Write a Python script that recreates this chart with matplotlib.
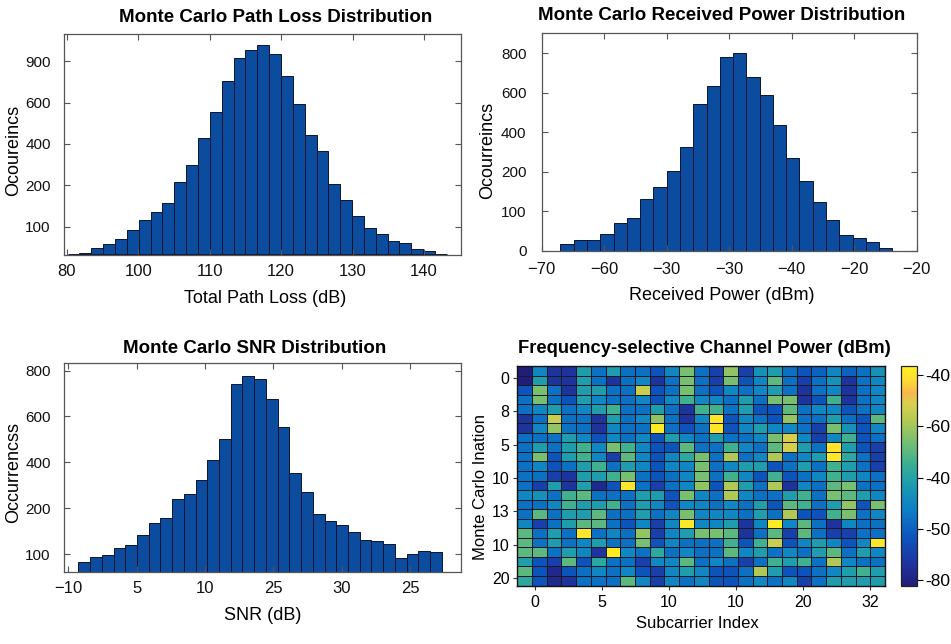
import numpy as np
import matplotlib
matplotlib.use("Agg")
import matplotlib.pyplot as plt
from matplotlib.colors import LinearSegmentedColormap

plt.rcParams['font.family'] = ['Liberation Sans', 'DejaVu Sans']

# ---------------- data ----------------
# Path loss histogram
pl_start, pl_width = 90.1, 1.66
pl_counts = [1, 5, 21, 37, 56, 88, 124, 153, 187, 262, 323, 420, 517, 630, 711, 741,
             758, 728, 648, 545, 433, 373, 254, 196, 139, 96, 73, 49, 39, 19, 12, 1]
pl_xticks = [90, 100, 110, 120, 130, 140]
pl_xlabels = ["80", "100", "110", "120", "130", "140"]
pl_yticks = [100, 250, 400, 550, 700]
pl_ylabels = ["100", "200", "400", "600", "900"]

# Received power histogram
rp_start, rp_width = -67.0, 2.125
rp_counts = [18, 27, 27, 42, 69, 84, 130, 160, 202, 263, 370, 416, 490, 500, 439, 395,
             319, 235, 176, 122, 77, 40, 32, 22, 6]
rp_xticks = [-70, -60, -50, -40, -30, -20, -10]
rp_xlabels = ["\u221270", "\u221260", "\u221230", "\u221230", "\u221240", "\u221220", "\u221220"]
rp_yticks = [0, 100, 200, 300, 400, 500]
rp_ylabels = ["0", "100", "200", "400", "600", "800"]

# SNR histogram
snr_start, snr_width = 0.732, 0.8577
snr_counts = [83, 94, 98, 114, 120, 141, 167, 179, 221, 232, 262, 304, 351, 471, 488, 482,
              439, 376, 276, 235, 188, 171, 163, 149, 131, 128, 121, 91, 100, 107, 105]
snr_xticks = [0, 5, 10, 15, 20, 25]
snr_xlabels = ["\u221210", "5", "10", "25", "30", "25"]
snr_yticks = [100, 200, 300, 400, 500]
snr_ylabels = ["100", "200", "400", "600", "800"]

# Channel power heatmap (dBm), 23 iterations x 25 subcarriers
power = [
    [-81,-65,-77,-77,-61,-68,-61,-68,-68,-72,-65,-53,-68,-75,-51,-75,-63,-61,-68,-72,-70,-65,-70,-68,-63],
    [-81,-61,-77,-77,-61,-68,-77,-68,-65,-77,-68,-53,-68,-75,-53,-72,-65,-55,-68,-75,-68,-63,-77,-68,-65],
    [-72,-53,-68,-77,-61,-61,-68,-68,-47,-72,-68,-53,-68,-72,-65,-68,-65,-61,-68,-77,-68,-65,-77,-68,-65],
    [-68,-53,-68,-72,-61,-65,-68,-68,-65,-72,-65,-57,-65,-65,-68,-61,-68,-53,-53,-77,-72,-57,-77,-68,-65],
    [-68,-65,-61,-68,-65,-61,-57,-68,-68,-61,-68,-77,-57,-57,-68,-61,-72,-72,-55,-68,-65,-65,-72,-68,-65],
    [-77,-68,-47,-68,-68,-77,-61,-68,-65,-51,-68,-77,-65,-40,-72,-65,-68,-72,-51,-68,-68,-61,-68,-72,-55],
    [-77,-65,-51,-68,-68,-77,-65,-68,-68,-39,-68,-72,-68,-40,-72,-65,-61,-65,-65,-68,-75,-53,-63,-72,-65],
    [-68,-68,-68,-61,-65,-72,-65,-68,-65,-72,-61,-65,-68,-61,-68,-68,-65,-53,-46,-65,-75,-65,-57,-72,-68],
    [-68,-61,-68,-61,-57,-65,-53,-57,-65,-72,-72,-55,-68,-68,-57,-65,-68,-55,-46,-61,-68,-40,-61,-72,-75],
    [-68,-53,-72,-61,-57,-65,-75,-55,-65,-72,-65,-59,-53,-68,-49,-68,-65,-49,-68,-65,-61,-39.5,-59,-68,-75],
    [-68,-65,-72,-68,-61,-57,-68,-61,-65,-72,-65,-65,-53,-68,-65,-61,-61,-72,-68,-61,-68,-57,-61,-68,-75],
    [-68,-68,-75,-77,-61,-61,-57,-53,-68,-72,-68,-65,-53,-68,-57,-65,-72,-57,-72,-68,-65,-57,-61,-65,-68],
    [-68,-75,-61,-77,-61,-79,-72,-40,-68,-75,-68,-65,-51,-72,-49,-61,-68,-49,-77,-65,-68,-55,-53,-68,-68],
    [-65,-63,-68,-57,-55,-68,-68,-68,-61,-61,-72,-53,-65,-68,-49,-65,-68,-68,-61,-57,-68,-53,-55,-61,-65],
    [-68,-68,-65,-57,-61,-61,-57,-68,-61,-65,-72,-65,-65,-68,-65,-68,-61,-72,-55,-57,-68,-61,-51,-72,-53],
    [-68,-55,-68,-61,-61,-55,-68,-68,-61,-68,-65,-53,-65,-65,-65,-68,-61,-68,-49,-72,-72,-57,-53,-68,-65],
    [-65,-75,-68,-61,-55,-55,-68,-72,-65,-75,-65,-39.5,-65,-65,-61,-77,-65,-39,-65,-55,-68,-77,-65,-68,-68],
    [-55,-68,-61,-68,-40,-68,-65,-68,-51,-75,-65,-61,-53,-53,-55,-77,-68,-55,-75,-55,-68,-75,-75,-68,-68],
    [-55,-68,-61,-68,-65,-61,-68,-68,-53,-72,-65,-68,-68,-68,-57,-72,-57,-47,-72,-65,-61,-65,-72,-65,-40],
    [-55,-55,-68,-61,-65,-77,-39,-65,-68,-59,-68,-65,-68,-68,-55,-65,-61,-68,-65,-68,-61,-55,-68,-61,-65],
    [-61,-72,-75,-55,-72,-59,-68,-68,-75,-65,-65,-55,-68,-65,-68,-75,-68,-57,-61,-57,-68,-49,-65,-68,-68],
    [-55,-72,-79,-72,-68,-65,-68,-65,-72,-75,-65,-61,-65,-72,-72,-68,-49,-61,-72,-72,-68,-65,-61,-57,-61],
    [-59,-72,-79,-77,-68,-68,-68,-55,-65,-75,-65,-68,-65,-72,-72,-68,-65,-68,-65,-75,-68,-61,-61,-61,-61],
]
hm_xticks = [0, 5, 10, 15, 20, 25]
hm_xlabels = ["0", "5", "10", "10", "20", "32"]
hm_yticks = [0, 5, 10, 15, 20, 25, 30]
hm_ylabels = ["0", "8", "5", "10", "13", "10", "20"]
cb_ticks = [-40, -50, -60, -70, -80]
cb_labels = ["-40", "-60", "-40", "-50", "-80"]

# ---------------- style ----------------
BAR = '#0b4c9f'
EDGE = '#0a1430'
SPINE = '#555555'

cmap = LinearSegmentedColormap.from_list('parulaish', [
    (0.00, (0.13, 0.11, 0.47)),
    (0.10, (0.12, 0.20, 0.62)),
    (0.22, (0.05, 0.33, 0.74)),
    (0.35, (0.05, 0.50, 0.78)),
    (0.45, (0.10, 0.60, 0.70)),
    (0.55, (0.22, 0.68, 0.58)),
    (0.65, (0.45, 0.75, 0.45)),
    (0.76, (0.72, 0.79, 0.33)),
    (0.83, (0.85, 0.82, 0.30)),
    (0.88, (0.97, 0.72, 0.30)),
    (0.94, (1.00, 0.87, 0.20)),
    (1.00, (1.00, 0.94, 0.12)),
])

fig = plt.figure(figsize=(9.51, 6.44), dpi=100)


def hist_axes(rect, start, width, counts, xlim, ylim, xt, xl, yt, yl,
              title, tx, tpad, xlabel, xlc, ylabel, ylc, xpad, ypad):
    ax = fig.add_axes(rect)
    n = len(counts)
    lefts = start + width * np.arange(n)
    ax.bar(lefts, counts, width=width, align='edge', color=BAR,
           edgecolor=EDGE, linewidth=0.7)
    ax.set_xlim(*xlim)
    ax.set_ylim(*ylim)
    ax.set_xticks(xt)
    ax.set_xticklabels(xl, fontsize=12)
    ax.set_yticks(yt)
    ax.set_yticklabels(yl, fontsize=11)
    ax.tick_params(axis='both', direction='in', top=True, right=True,
                   length=4, width=0.8, color=SPINE, labelcolor='#111111')
    ax.tick_params(axis='x', pad=xpad)
    ax.tick_params(axis='y', pad=ypad)
    for s in ax.spines.values():
        s.set_color(SPINE)
        s.set_linewidth(0.9)
    ax.set_title(title, fontsize=13.5, fontweight='bold', x=tx, pad=tpad)
    ax.set_xlabel(xlabel, fontsize=13, va='center')
    ax.xaxis.set_label_coords(*xlc)
    ax.set_ylabel(ylabel, fontsize=13, va='center')
    ax.yaxis.set_label_coords(*ylc)
    return ax


hist_axes([0.0673, 0.6040, 0.4175, 0.3432], pl_start, pl_width, pl_counts,
          (89.6, 145.2), (-3, 799), pl_xticks, pl_xlabels, pl_yticks, pl_ylabels,
          "Monte Carlo Path Loss Distribution", 0.534, 9.0,
          "Total Path Loss (dB)", (0.506, -0.196), "Ocoureincs", (-0.128, 0.475),
          6.5, 9.5)

hist_axes([0.5696, 0.6107, 0.3943, 0.3376], rp_start, rp_width, rp_counts,
          (-70, -10), (0, 550), rp_xticks, rp_xlabels, rp_yticks, rp_ylabels,
          "Monte Carlo Received Power Distribution", 0.48, 9.6,
          "Received Power (dBm)", (0.481, -0.204), "Ocourreincs", (-0.143, 0.463),
          8.0, 11.0)

hist_axes([0.0673, 0.1123, 0.4175, 0.3236], snr_start, snr_width, snr_counts,
          (-0.32, 28.73), (61.5, 516), snr_xticks, snr_xlabels, snr_yticks, snr_ylabels,
          "Monte Carlo SNR Distribution", 0.479, 7.2,
          "SNR (dB)", (0.501, -0.208), "Occurrencss", (-0.128, 0.474),
          6.5, 9.5)

# ---------------- heatmap ----------------
data = np.array(power, dtype=float)
nrows, ncols = data.shape
ax4 = fig.add_axes([0.5440, 0.0908, 0.3866, 0.3408])
xe = np.linspace(-1.32, 26.12, ncols + 1)
ye = np.linspace(-1.757, -1.757 + nrows * 1.4286, nrows + 1)
vmin, vmax = -81.3, -38.2
mesh = ax4.pcolormesh(xe, ye, data, cmap=cmap, vmin=vmin, vmax=vmax,
                      edgecolors=(0.08, 0.1, 0.15), linewidth=0.45)
ax4.set_xlim(xe[0], xe[-1])
ax4.set_ylim(ye[-1], ye[0])
ax4.set_xticks(hm_xticks)
ax4.set_xticklabels(hm_xlabels, fontsize=11.5)
ax4.set_yticks(hm_yticks)
ax4.set_yticklabels(hm_ylabels, fontsize=11.5)
ax4.tick_params(axis='both', direction='out', length=3, width=0.8, color='#333333')
ax4.tick_params(axis='x', pad=4)
ax4.tick_params(axis='y', pad=2.5)
for s in ax4.spines.values():
    s.set_color('#111111')
    s.set_linewidth(1.0)
ax4.set_title("Frequency-selective Channel Power (dBm)", fontsize=13.2,
              fontweight='bold', x=0.51, pad=9.4)
ax4.set_xlabel("Subcarrier Index", fontsize=12, va='center')
ax4.xaxis.set_label_coords(0.489, -0.171)
ax4.set_ylabel("Monte Carlo Ination", fontsize=12, va='center')
ax4.yaxis.set_label_coords(-0.101, 0.449)

cax = fig.add_axes([0.9474, 0.0893, 0.0165, 0.3424])
cb = fig.colorbar(mesh, cax=cax)
cb.set_ticks(cb_ticks)
cb.set_ticklabels(cb_labels)
cb.ax.tick_params(labelsize=12.5, length=4, width=0.8, direction='out', pad=2)
cb.outline.set_edgecolor('#222222')
cb.outline.set_linewidth(0.9)

fig.savefig("out.png", dpi=100)
